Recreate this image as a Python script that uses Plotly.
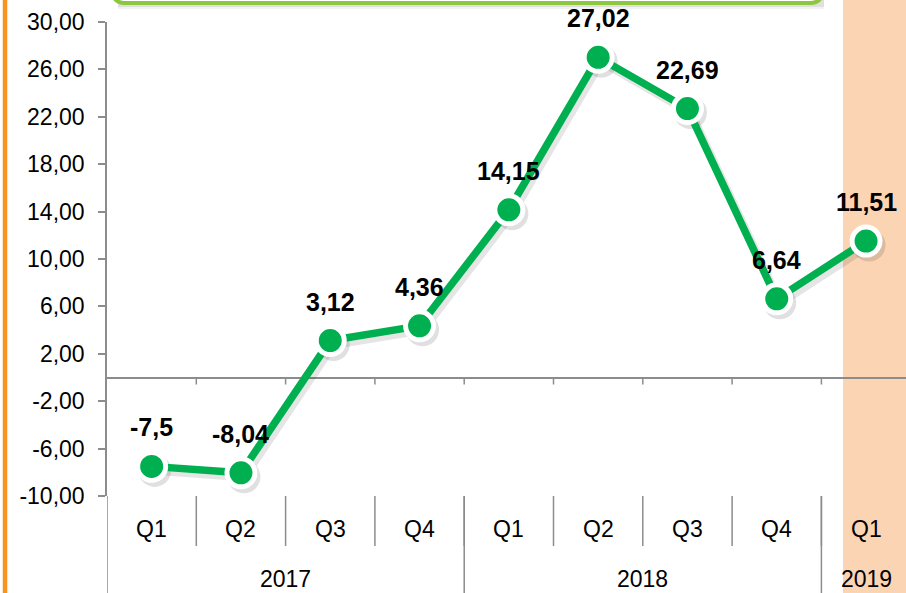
import plotly.graph_objects as go

# ---- data -------------------------------------------------------------
quarters = ["Q1", "Q2", "Q3", "Q4", "Q1", "Q2", "Q3", "Q4", "Q1"]
years = ["2017", "2018", "2019"]
year_spans = [(0, 3), (4, 7), (8, 8)]          # first/last quarter index of each year
values = [-7.5, -8.04, 3.12, 4.36, 14.15, 27.02, 22.69, 6.64, 11.51]
y_ticks = [-10, -6, -2, 2, 6, 10, 14, 18, 22, 26, 30]

# ---- geometry ---------------------------------------------------------
W, H = 906, 593
ML, MR, MT, MB = 107, 0, 22, 97
PW, PH = W - ML - MR, H - MT - MB
X_UNIT = 89.3                                   # pixels per category
X_RANGE = [-0.5, -0.5 + PW / X_UNIT]
Y_RANGE = [-10, 30]
Y_UNIT = PH / (Y_RANGE[1] - Y_RANGE[0])


def px_x(p):
    return (p - ML) / PW


def px_y(p):
    return (MT + PH - p) / PH


GREEN = "#00B050"
GRAY = "#8C8C8C"
FONT = "Liberation Sans, Arial, sans-serif"

xs = list(range(len(values)))

fig = go.Figure()

# soft drop shadow drawn on an offset copy of the axes
SH_DX, SH_DY = 3, 4
fig.add_trace(go.Scatter(
    x=xs, y=values, mode="lines+markers", xaxis="x2", yaxis="y2",
    line=dict(color="rgba(0,0,0,0.10)", width=9),
    marker=dict(size=33, color="rgba(0,0,0,0.12)", line=dict(width=0)),
    hoverinfo="skip", showlegend=False,
))

# the series itself
fig.add_trace(go.Scatter(
    x=xs, y=values, mode="lines+markers", xaxis="x3", yaxis="y3",
    line=dict(color=GREEN, width=7.5),
    marker=dict(size=28, color=GREEN, line=dict(color="white", width=5)),
    showlegend=False,
))

shapes = []
# highlighted latest quarter
shapes.append(dict(type="rect", xref="paper", yref="paper",
                   x0=px_x(843), x1=px_x(W + 5), y0=px_y(H + 5), y1=px_y(-5),
                   fillcolor="#FBD4B4", line=dict(width=0), layer="below"))
# orange frame line on the left
shapes.append(dict(type="line", xref="paper", yref="paper",
                   x0=px_x(5), x1=px_x(5), y0=px_y(H + 5), y1=px_y(-5),
                   line=dict(color="#F7941D", width=4.5)))
# top caption box (cut by the page edge)
bx0, bx1, by, r = px_x(113), px_x(822), px_y(3), 12
for k, a in ((7, 0.05), (5, 0.08)):
    shapes.append(dict(type="rect", xref="paper", yref="paper",
                       x0=px_x(118), x1=px_x(824), y0=px_y(k + 2), y1=px_y(-30),
                       fillcolor=f"rgba(0,0,0,{a})", line=dict(width=0)))
shapes.append(dict(
    type="path", xref="paper", yref="paper",
    path=(f"M {bx0},{px_y(-30)} L {bx0},{px_y(3 - r)} "
          f"Q {bx0},{by} {px_x(113 + r)},{by} L {px_x(822 - r)},{by} "
          f"Q {bx1},{by} {bx1},{px_y(3 - r)} L {bx1},{px_y(-30)} Z"),
    fillcolor="white", line=dict(color="#8DC63F", width=4)))

# tick marks on the zero line between quarters
for b in range(len(values) - 1):
    shapes.append(dict(type="line", xref="x", yref="y", ysizemode="pixel", yanchor=0,
                       x0=b + 0.5, x1=b + 0.5, y0=0, y1=-7,
                       line=dict(color=GRAY, width=1.5)))
# separators between quarter labels
for b in range(len(values) - 1):
    shapes.append(dict(type="line", xref="x", yref="paper",
                       x0=b + 0.5, x1=b + 0.5, y0=0, y1=px_y(546),
                       line=dict(color=GRAY, width=1.5)))
# separators between years, plus extension of the value axis
for s, e in year_spans:
    shapes.append(dict(type="line", xref="x", yref="paper",
                       x0=s - 0.5, x1=s - 0.5, y0=0, y1=px_y(H + 5),
                       line=dict(color=GRAY, width=1.5)))

annotations = []
for i, q in enumerate(quarters):
    annotations.append(dict(x=i, y=px_y(529), xref="x", yref="paper", text=q,
                            showarrow=False, font=dict(family=FONT, size=23, color="black"),
                            xanchor="center", yanchor="middle"))
for yr, (s, e) in zip(years, year_spans):
    annotations.append(dict(x=(s + e) / 2, y=px_y(579), xref="x", yref="paper", text=yr,
                            showarrow=False, font=dict(family=FONT, size=23, color="black"),
                            xanchor="center", yanchor="middle"))
for i, v in enumerate(values):
    annotations.append(dict(x=i, y=v, xref="x", yref="y", text=str(v).replace(".", ","),
                            showarrow=False, yshift=39,
                            font=dict(family=FONT, size=25, color="black", weight="bold"),
                            xanchor="center", yanchor="middle"))

fig.update_layout(
    width=W, height=H,
    margin=dict(l=ML, r=MR, t=MT, b=MB),
    paper_bgcolor="white", plot_bgcolor="rgba(0,0,0,0)",
    shapes=shapes, annotations=annotations,
    xaxis=dict(range=X_RANGE, showgrid=False, zeroline=False, showline=False,
               showticklabels=False, ticks="", fixedrange=True),
    yaxis=dict(range=Y_RANGE, tickvals=y_ticks,
               ticktext=[f"{t:.2f}".replace(".", ",") for t in y_ticks],
               showgrid=False, zeroline=True, zerolinecolor=GRAY, zerolinewidth=1.5,
               showline=True, linecolor=GRAY, linewidth=1.5,
               ticks="outside", ticklen=7, tickwidth=1.5, tickcolor=GRAY,
               ticklabelstandoff=9,
               tickfont=dict(family=FONT, size=23, color="black")),
    xaxis2=dict(range=[X_RANGE[0] - SH_DX / X_UNIT, X_RANGE[1] - SH_DX / X_UNIT],
                overlaying="x", visible=False),
    yaxis2=dict(range=[Y_RANGE[0] + SH_DY / Y_UNIT, Y_RANGE[1] + SH_DY / Y_UNIT],
                overlaying="y", visible=False),
    xaxis3=dict(range=X_RANGE, overlaying="x", visible=False),
    yaxis3=dict(range=Y_RANGE, overlaying="y", visible=False),
)

fig.write_html("out.html")
